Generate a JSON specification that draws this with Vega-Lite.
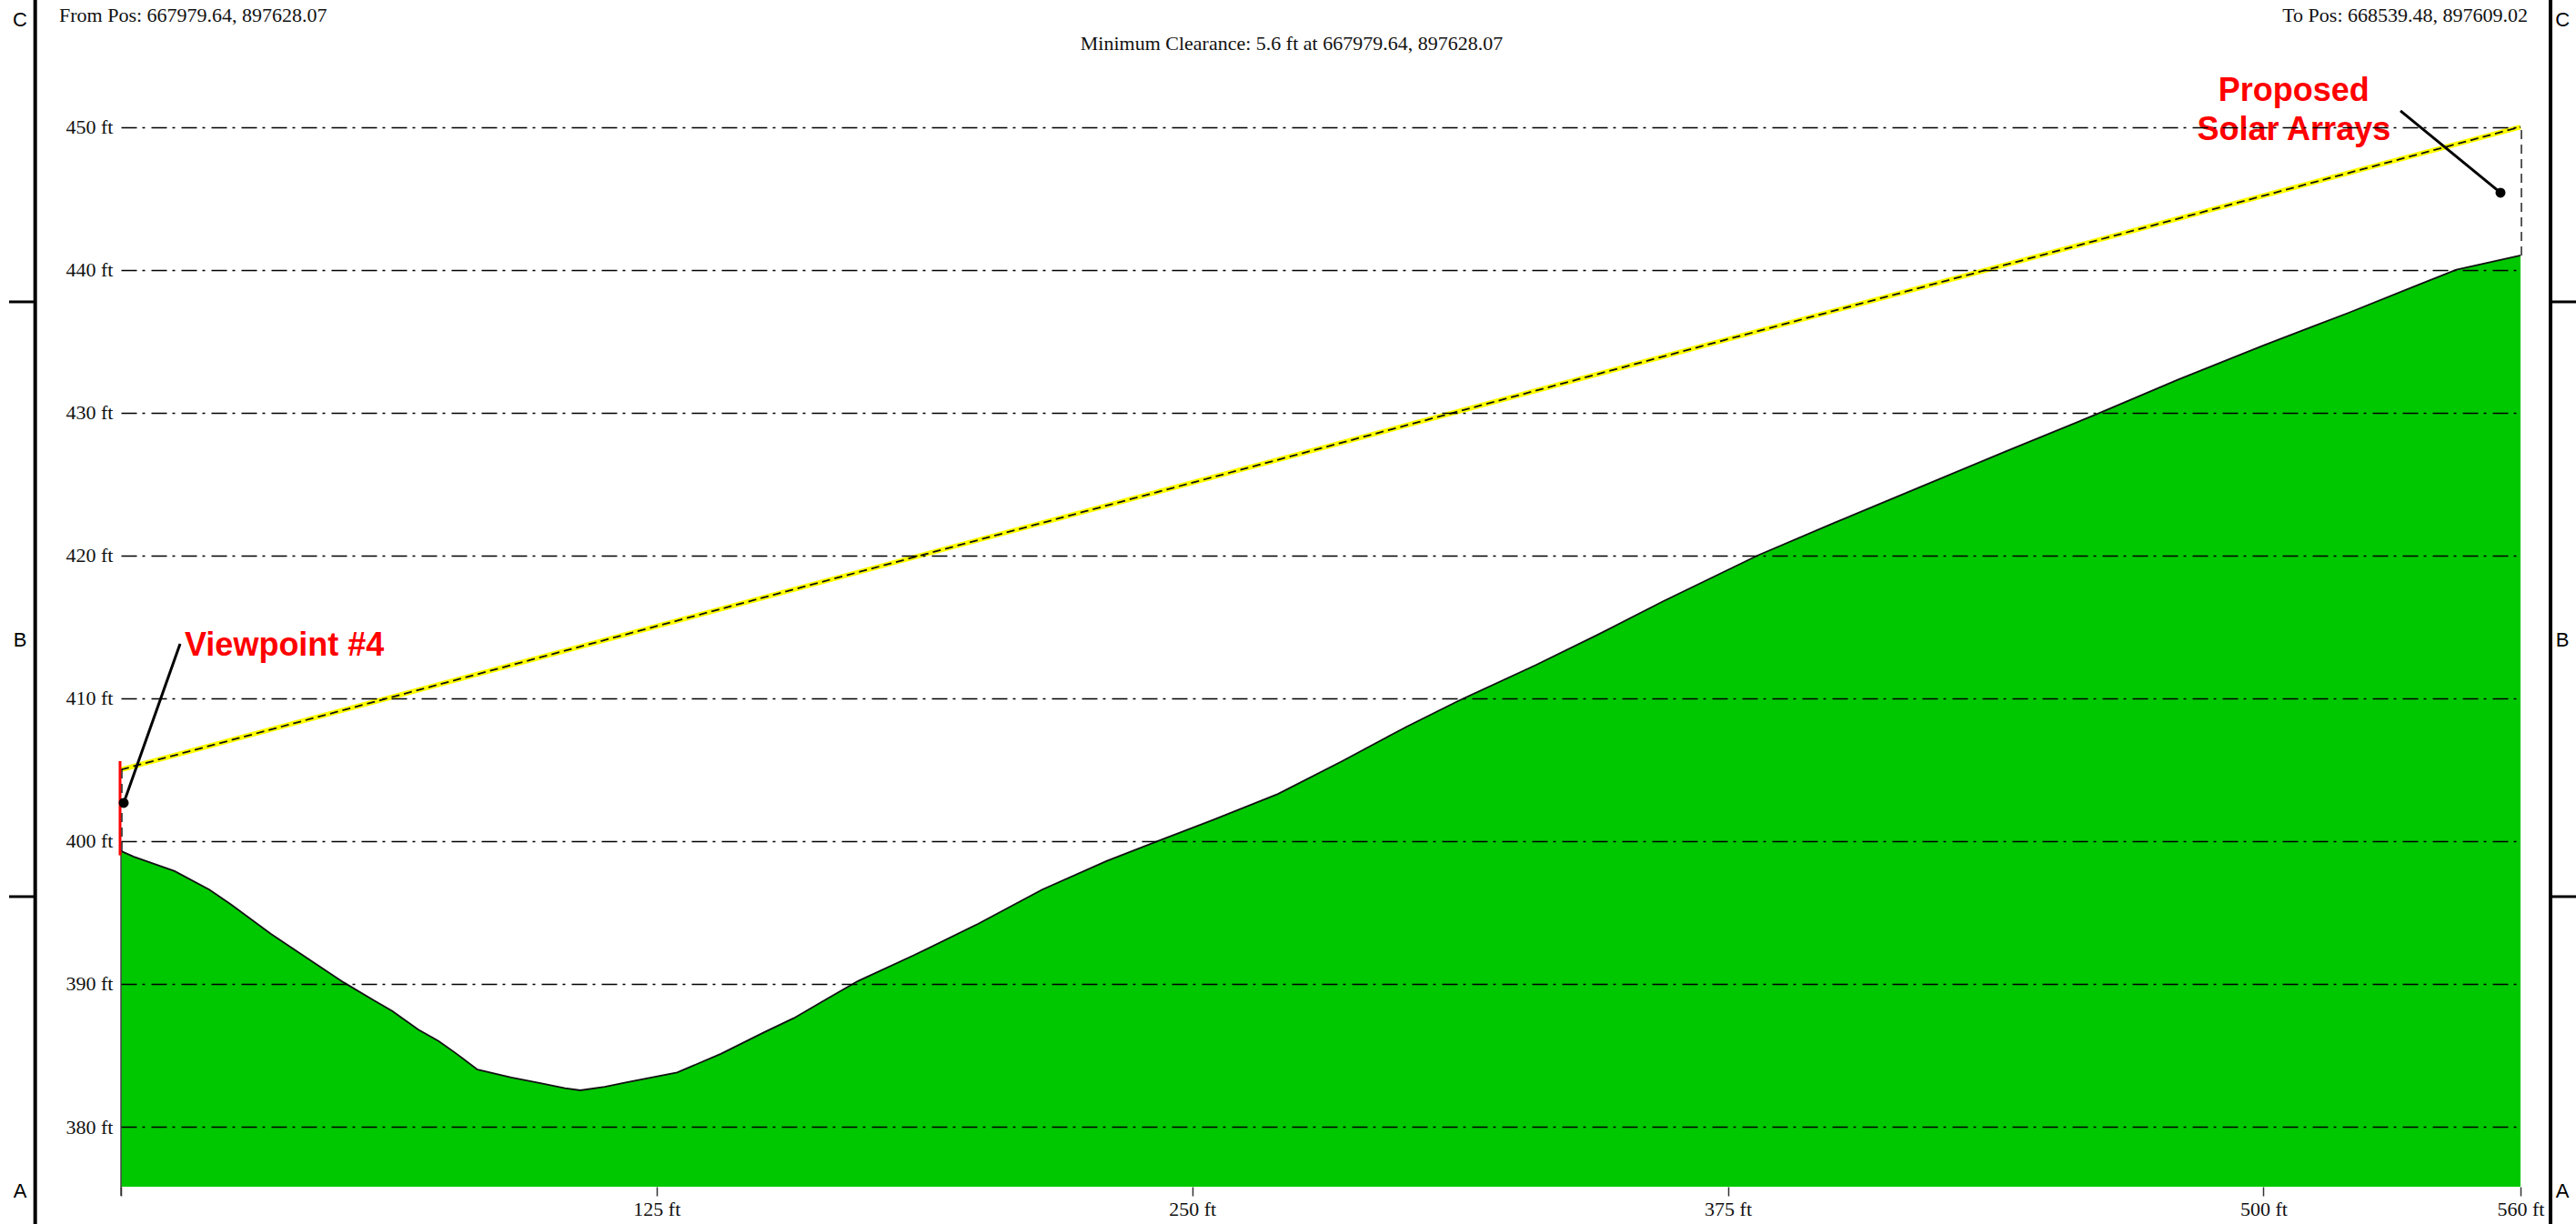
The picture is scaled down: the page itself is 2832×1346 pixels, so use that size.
{
  "$schema": "https://vega.github.io/schema/vega-lite/v6.json",
  "autosize": {"type": "none"},
  "width": 2638,
  "height": 1244,
  "padding": {"left": 133, "top": 61, "right": 61, "bottom": 41},
  "background": "white",
  "config": {"view": {"stroke": null}},
  "datasets": {
    "terrain": [
      {"x": 0, "y": 399.3}, {"x": 3, "y": 398.9}, {"x": 12.5, "y": 397.9}, {"x": 20.6, "y": 396.6},
      {"x": 25.5, "y": 395.6}, {"x": 35, "y": 393.5}, {"x": 45, "y": 391.5}, {"x": 52, "y": 390.1},
      {"x": 59, "y": 388.85}, {"x": 63.3, "y": 388.1}, {"x": 69.4, "y": 386.8}, {"x": 74.1, "y": 386.0},
      {"x": 77.9, "y": 385.2}, {"x": 83.2, "y": 384.0}, {"x": 91.1, "y": 383.45}, {"x": 97.9, "y": 383.05},
      {"x": 103.6, "y": 382.7}, {"x": 107.2, "y": 382.55}, {"x": 112.9, "y": 382.8}, {"x": 117.8, "y": 383.1},
      {"x": 129.8, "y": 383.8}, {"x": 140, "y": 385.1}, {"x": 150, "y": 386.6}, {"x": 157, "y": 387.6},
      {"x": 165, "y": 389.0}, {"x": 172, "y": 390.2}, {"x": 185, "y": 392.0}, {"x": 200, "y": 394.2},
      {"x": 215, "y": 396.6}, {"x": 230, "y": 398.6}, {"x": 242, "y": 400.0}, {"x": 255, "y": 401.5},
      {"x": 270, "y": 403.3}, {"x": 285, "y": 405.6}, {"x": 300, "y": 408.0}, {"x": 312, "y": 409.8},
      {"x": 330, "y": 412.3}, {"x": 345, "y": 414.5}, {"x": 360, "y": 416.8}, {"x": 382, "y": 420.0},
      {"x": 400, "y": 422.3}, {"x": 420, "y": 424.8}, {"x": 440, "y": 427.3}, {"x": 462, "y": 430.0},
      {"x": 480, "y": 432.3}, {"x": 500, "y": 434.7}, {"x": 520, "y": 437.0}, {"x": 535, "y": 438.8},
      {"x": 545, "y": 440.0}, {"x": 560, "y": 441.0}
    ],
    "sightline": [{"x": 0, "y": 405.0}, {"x": 560, "y": 450.0}],
    "verticals": [{"x": 0, "y": 399.3, "y2": 405.0}, {"x": 560, "y": 441.0, "y2": 450.0}],
    "redmark": [{"x": 0, "y": 399.0, "y2": 405.6}],
    "edge": [{"x": 0, "y": 375.16, "y2": 399.3}],
    "leaders": [
      {"x": 13.8, "y": 413.81, "x2": 0.64, "y2": 402.67},
      {"x": 531.98, "y": 451.12, "x2": 555.33, "y2": 445.39}
    ],
    "dots": [{"x": 0.64, "y": 402.67}, {"x": 555.33, "y": 445.39}],
    "frameLines": [
      {"x": -20.02, "y": 373.19, "y2": 458.88},
      {"x": 567.0, "y": 373.19, "y2": 458.88}
    ],
    "frameTicks": [
      {"x": -26.11, "x2": -20.02, "y": 437.75},
      {"x": -26.11, "x2": -20.02, "y": 396.11},
      {"x": 567.0, "x2": 573.0, "y": 437.75},
      {"x": 567.0, "x2": 573.0, "y": 396.11}
    ],
    "frameLetters": [
      {"x": -23.56, "y": 457.48, "label": "C"},
      {"x": -23.56, "y": 414.06, "label": "B"},
      {"x": -23.56, "y": 375.48, "label": "A"},
      {"x": 569.8, "y": 457.48, "label": "C"},
      {"x": 569.8, "y": 414.06, "label": "B"},
      {"x": 569.8, "y": 375.48, "label": "A"}
    ]
  },
  "encoding": {
    "x": {
      "field": "x", "type": "quantitative", "title": null,
      "scale": {"domain": [0, 560], "nice": false, "zero": false},
      "axis": {
        "values": [0, 125, 250, 375, 500, 560],
        "labelExpr": "datum.value == 0 ? '' : datum.value + ' ft'",
        "domain": false, "grid": false, "tickSize": 10, "tickColor": "#333", "tickWidth": 1.5,
        "labelFont": "Liberation Serif", "labelFontSize": 22, "labelColor": "#111",
        "labelPadding": 4, "labelOverlap": false, "labelFlush": false, "zindex": 1
      }
    },
    "y": {
      "field": "y", "type": "quantitative", "title": null,
      "scale": {"domain": [375.8, 455], "nice": false, "zero": false},
      "axis": {
        "values": [380, 390, 400, 410, 420, 430, 440, 450],
        "labelExpr": "datum.value + ' ft'",
        "domain": false, "ticks": false, "grid": true,
        "gridColor": "#000000", "gridOpacity": 1, "gridWidth": 1.4, "gridDash": [17, 6, 3, 7],
        "labelFont": "Liberation Serif", "labelFontSize": 22, "labelColor": "#111",
        "labelPadding": 9, "zindex": 1
      }
    }
  },
  "layer": [
    {
      "data": {"name": "terrain"},
      "mark": {"type": "area", "color": "#00C800", "interpolate": "linear"},
      "encoding": {"y2": {"datum": 375.8}}
    },
    {
      "data": {"name": "terrain"},
      "mark": {"type": "line", "color": "#111111", "strokeWidth": 1.8},
      "encoding": {}
    },
    {
      "data": {"name": "edge"},
      "mark": {"type": "rule", "color": "#444444", "strokeWidth": 1.5},
      "encoding": {"y2": {"field": "y2"}}
    },
    {
      "data": {"name": "sightline"},
      "mark": {"type": "line", "color": "#FFFF00", "strokeWidth": 5.5},
      "encoding": {}
    },
    {
      "data": {"name": "sightline"},
      "mark": {"type": "line", "color": "#111111", "strokeWidth": 1.8, "strokeDash": [9, 5]},
      "encoding": {}
    },
    {
      "data": {"name": "redmark"},
      "mark": {"type": "rule", "color": "#FF0000", "strokeWidth": 3, "xOffset": -1},
      "encoding": {"y2": {"field": "y2"}}
    },
    {
      "data": {"name": "verticals"},
      "mark": {"type": "rule", "color": "#222222", "strokeWidth": 1.5, "strokeDash": [10, 6], "xOffset": 1},
      "encoding": {"y2": {"field": "y2"}}
    },
    {
      "data": {"name": "leaders"},
      "mark": {"type": "rule", "color": "#000000", "strokeWidth": 3},
      "encoding": {"x2": {"field": "x2"}, "y2": {"field": "y2"}}
    },
    {
      "data": {"name": "dots"},
      "mark": {"type": "point", "filled": true, "color": "#000000", "size": 120, "opacity": 1},
      "encoding": {}
    },
    {
      "data": {"values": [{"x": 14.86, "y": 413.68, "label": "Viewpoint #4"}]},
      "mark": {"type": "text", "align": "left", "baseline": "middle", "font": "Liberation Sans", "fontWeight": "bold", "fontSize": 36, "color": "#FF0000"},
      "encoding": {"text": {"field": "label"}}
    },
    {
      "data": {"values": [{"x": 507.1, "y": 452.52, "label": "Proposed"}, {"x": 507.1, "y": 449.78, "label": "Solar Arrays"}]},
      "mark": {"type": "text", "align": "center", "baseline": "middle", "font": "Liberation Sans", "fontWeight": "bold", "fontSize": 36, "color": "#FF0000"},
      "encoding": {"text": {"field": "label"}}
    },
    {
      "data": {"values": [{"x": -14.44, "y": 457.8, "label": "From Pos: 667979.64, 897628.07"}]},
      "mark": {"type": "text", "align": "left", "baseline": "middle", "font": "Liberation Serif", "fontSize": 22, "color": "#111111"},
      "encoding": {"text": {"field": "label"}}
    },
    {
      "data": {"values": [{"x": 561.7, "y": 457.8, "label": "To Pos: 668539.48, 897609.02"}]},
      "mark": {"type": "text", "align": "right", "baseline": "middle", "font": "Liberation Serif", "fontSize": 22, "color": "#111111"},
      "encoding": {"text": {"field": "label"}}
    },
    {
      "data": {"values": [{"x": 273.2, "y": 455.83, "label": "Minimum Clearance: 5.6 ft at 667979.64, 897628.07"}]},
      "mark": {"type": "text", "align": "center", "baseline": "middle", "font": "Liberation Serif", "fontSize": 22, "color": "#111111"},
      "encoding": {"text": {"field": "label"}}
    },
    {
      "data": {"name": "frameLines"},
      "mark": {"type": "rule", "color": "#000000", "strokeWidth": 4},
      "encoding": {"y2": {"field": "y2"}}
    },
    {
      "data": {"name": "frameTicks"},
      "mark": {"type": "rule", "color": "#000000", "strokeWidth": 3},
      "encoding": {"x2": {"field": "x2"}}
    },
    {
      "data": {"name": "frameLetters"},
      "mark": {"type": "text", "align": "center", "baseline": "middle", "font": "Liberation Sans", "fontSize": 22, "color": "#000000"},
      "encoding": {"text": {"field": "label"}}
    }
  ]
}
